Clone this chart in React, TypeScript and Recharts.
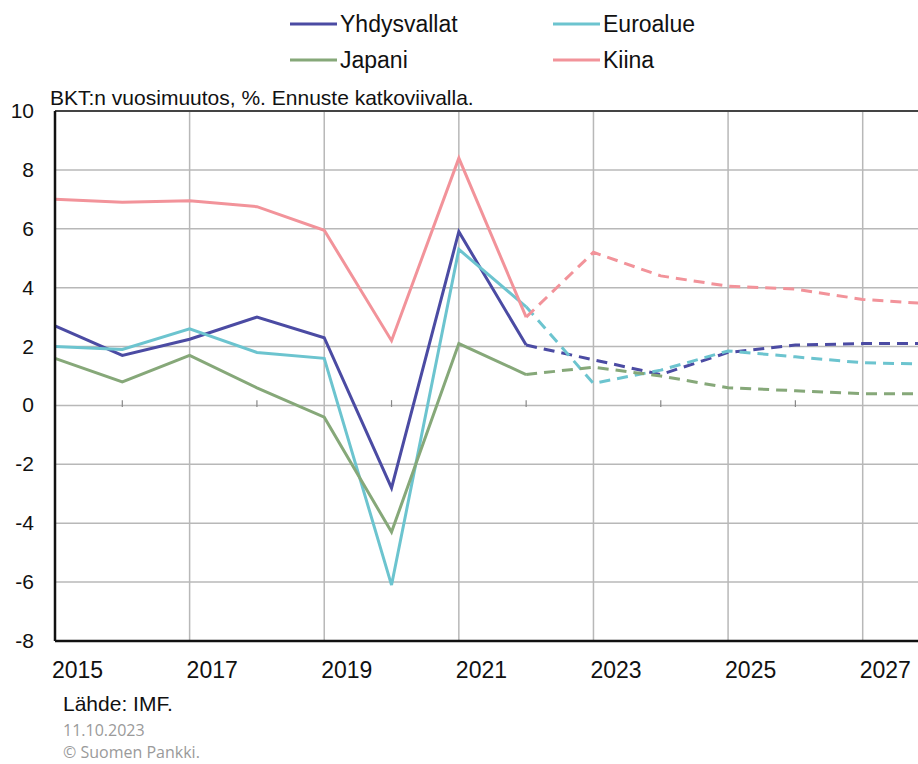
import React from "react";
import {
  LineChart,
  Line,
  XAxis,
  YAxis,
  CartesianGrid,
  ReferenceLine,
} from "recharts";

// BKT:n vuosimuutos, % (IMF). Ennuste vuodesta 2022 eteenpäin.
const years = [2015, 2016, 2017, 2018, 2019, 2020, 2021, 2022, 2023, 2024, 2025, 2026, 2027, 2028];
const forecastFrom = 2022;

const usa = [2.7, 1.7, 2.25, 3.0, 2.3, -2.8, 5.9, 2.05, 1.55, 1.05, 1.8, 2.05, 2.1, 2.1];
const euro = [2.0, 1.9, 2.6, 1.8, 1.6, -6.1, 5.3, 3.35, 0.75, 1.2, 1.85, 1.65, 1.45, 1.4];
const japan = [1.6, 0.8, 1.7, 0.6, -0.4, -4.3, 2.1, 1.05, 1.3, 1.0, 0.6, 0.5, 0.4, 0.4];
const china = [7.0, 6.9, 6.95, 6.75, 5.95, 2.2, 8.4, 3.0, 5.2, 4.4, 4.05, 3.95, 3.6, 3.45];

const xTicks = [2015, 2017, 2019, 2021, 2023, 2025, 2027];
const yTicks = [-8, -6, -4, -2, 0, 2, 4, 6, 8, 10];
const minorTicks = [2016, 2018, 2020, 2022, 2024, 2026, 2028];

const series = [
  { key: "usa", name: "Yhdysvallat", values: usa, color: "#4b4ba3" },
  { key: "euro", name: "Euroalue", values: euro, color: "#6cc4cf" },
  { key: "japan", name: "Japani", values: japan, color: "#86a879" },
  { key: "china", name: "Kiina", values: china, color: "#f2939a" },
];

const data = years.map((year, i) => {
  const row: Record<string, number | null> = { year };
  series.forEach((s) => {
    row[s.key] = year <= forecastFrom ? s.values[i] : null;
    row[s.key + "F"] = year >= forecastFrom ? s.values[i] : null;
  });
  return row;
});

const FONT = "'Liberation Sans', Arial, sans-serif";

const XTick = (props: any) => {
  const { x, y, payload } = props;
  return (
    <text x={x - 3} y={y + 37} textAnchor="start" fontSize={23} fontFamily={FONT} fill="#111">
      {payload.value}
    </text>
  );
};

const YTick = (props: any) => {
  const { x, y, payload } = props;
  return (
    <text x={x} y={y + 7} textAnchor="end" fontSize={21} fontFamily={FONT} fill="#111">
      {payload.value}
    </text>
  );
};

const legendItems = [
  { s: series[0], x: 290, y: 24 },
  { s: series[1], x: 553, y: 24 },
  { s: series[2], x: 290, y: 60 },
  { s: series[3], x: 553, y: 60 },
];

export default function App() {
  return (
    <div
      style={{
        position: "absolute",
        left: 0,
        top: 0,
        width: 918,
        height: 764,
        overflow: "hidden",
        background: "#fff",
      }}
    >
      <div style={{ position: "absolute", left: 0, top: 0 }}>
        <LineChart
          width={960}
          height={764}
          data={data}
          margin={{ top: 111, right: 30, bottom: 0, left: 0 }}
        >
          <CartesianGrid stroke="#b8b8b8" strokeWidth={1.5} />
          <XAxis
            dataKey="year"
            type="number"
            domain={[2015, 2028]}
            ticks={xTicks}
            height={123}
            tickLine={false}
            tickSize={0}
            tickMargin={0}
            axisLine={{ stroke: "#111", strokeWidth: 2.5 }}
            tick={<XTick />}
            interval={0}
          />
          <YAxis
            type="number"
            domain={[-8, 10]}
            ticks={yTicks}
            width={55}
            tickLine={false}
            tickSize={0}
            tickMargin={21}
            axisLine={{ stroke: "#111", strokeWidth: 2.5 }}
            tick={<YTick />}
            interval={0}
          />
          <ReferenceLine y={10} stroke="#444" strokeWidth={2} />
          {minorTicks.map((yr) => (
            <ReferenceLine
              key={yr}
              segment={[
                { x: yr, y: -0.05 },
                { x: yr, y: 0.18 },
              ]}
              stroke="#888"
              strokeWidth={1.2}
            />
          ))}
          {series.map((s) => (
            <Line
              key={s.key}
              dataKey={s.key}
              stroke={s.color}
              strokeWidth={3}
              dot={false}
              activeDot={false}
              connectNulls={false}
              isAnimationActive={false}
            />
          ))}
          {series.map((s) => (
            <Line
              key={s.key + "F"}
              dataKey={s.key + "F"}
              stroke={s.color}
              strokeWidth={3}
              strokeDasharray="11 7"
              dot={false}
              activeDot={false}
              connectNulls={false}
              isAnimationActive={false}
            />
          ))}
        </LineChart>
      </div>
      <svg
        width={918}
        height={764}
        style={{ position: "absolute", left: 0, top: 0, pointerEvents: "none" }}
      >
        {legendItems.map(({ s, x, y }) => (
          <g key={s.key}>
            <line x1={x} x2={x + 47} y1={y} y2={y} stroke={s.color} strokeWidth={3} />
            <text x={x + 50} y={y + 8} fontSize={23} fontFamily={FONT} fill="#111">
              {s.name}
            </text>
          </g>
        ))}
        <text x={50} y={105} fontSize={21} fontFamily={FONT} fill="#111">
          BKT:n vuosimuutos, %. Ennuste katkoviivalla.
        </text>
        <text x={63} y={711} fontSize={21} fontFamily={FONT} fill="#111">
          Lähde: IMF.
        </text>
        <text x={63} y={736} fontSize={16} fontFamily="'Open Sans', sans-serif" fill="#9a9a9a">
          11.10.2023
        </text>
        <text x={63} y={758} fontSize={16} fontFamily="'Open Sans', sans-serif" fill="#9a9a9a">
          © Suomen Pankki.
        </text>
      </svg>
    </div>
  );
}
